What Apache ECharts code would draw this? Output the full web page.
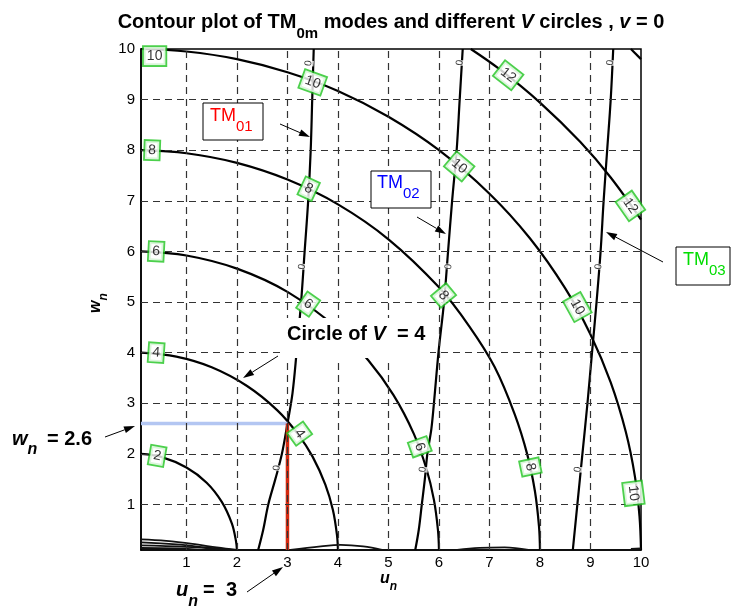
<!DOCTYPE html>
<html><head><meta charset="utf-8">
<script src="https://cdn.jsdelivr.net/npm/echarts@6/dist/echarts.min.js"></script>
<style>html,body{margin:0;padding:0;background:#fff}#c{width:731px;height:612px}</style>
</head><body><div id="c"></div>
<script>
// ---------- data ----------
const uTicks = [1, 2, 3, 4, 5, 6, 7, 8, 9, 10];
const wTicks = [1, 2, 3, 4, 5, 6, 7, 8, 9, 10];
const gridU = [1, 2, 3, 4, 5, 6, 7, 8, 9];
const gridW = [1, 2, 3, 4, 5, 6, 7, 8, 9];

// V circles (u, w)
const circleV2 = [[0.1,2.0],[0.5,1.94],[1.0,1.73],[1.4,1.43],[1.7,1.05],[1.9,0.62],[1.98,0.28],[2.0,0.1]];
const circleV4 = [[0.1,4.0],[0.8,3.92],[1.5,3.71],[2.2,3.34],[2.8,2.86],[3.2,2.4],[3.5,1.94],[3.75,1.39],[3.9,0.89],[3.98,0.4],[4.0,0.1]];
const circleV6 = [[0.1,6.0],[1.0,5.92],[2.0,5.66],[3.0,5.2],[4.0,4.47],[4.6,3.85],[5.1,3.16],[5.5,2.4],[5.75,1.71],[5.9,1.09],[5.98,0.49],[6.0,0.1]];
const circleV8 = [[0.1,8.0],[1,7.94],[2,7.75],[3,7.42],[4,6.93],[5,6.24],[6,5.29],[6.6,4.52],[7.1,3.72],[7.5,2.78],[7.75,1.98],[7.9,1.26],[7.98,0.57],[8.0,0.1]];
const circleV10 = [[0.1,10],[1,9.95],[2,9.8],[3,9.54],[4,9.17],[5,8.66],[6,8.0],[7,7.14],[7.8,6.26],[8.5,5.27],[9.0,4.36],[9.4,3.41],[9.7,2.43],[9.88,1.55],[9.97,0.77],[10,0.1]];
const circleV12 = [[6.63,10],[7.2,9.6],[8,8.94],[8.8,8.16],[9.4,7.46],[10,6.63]];
const circleV14 = [[9.8,10],[10,9.8]];

// TM0m zero contours
const modeTM01 = [[2.42,0.1],[2.52,0.5],[2.62,1],[2.76,1.5],[2.89,2],[3.0,2.6],[3.1,3.2],[3.18,4],[3.27,5],[3.34,6],[3.41,7],[3.46,8],[3.49,9],[3.52,10]];
const modeTM02 = [[5.53,0.1],[5.6,0.5],[5.66,1],[5.72,1.5],[5.77,2],[5.85,2.5],[5.9,3],[5.99,4],[6.1,5],[6.18,6],[6.26,7],[6.35,8],[6.41,9],[6.47,10]];
const modeTM03 = [[8.65,0.1],[8.69,0.5],[8.74,1],[8.84,2],[8.94,3],[9.03,4],[9.12,5],[9.2,6],[9.26,7],[9.33,8],[9.4,9],[9.45,10]];

// spurious contour pieces hugging w = 0
const edgeA = [[0.1,0.31],[0.6,0.28],[1.2,0.21],[1.6,0.15],[2.0,0.1]];
const edgeB = [[0.1,0.25],[0.8,0.21],[1.4,0.15],[1.9,0.1]];
const edgeC = [[0.1,0.19],[1.0,0.16],[1.6,0.12],[1.8,0.1]];
const edgeD = [[0.1,0.14],[0.8,0.13],[1.3,0.1]];
const edgeE = [[3.06,0.1],[3.66,0.17],[4.05,0.2],[4.5,0.17],[4.87,0.1]];
const edgeF = [[6.36,0.1],[6.8,0.14],[7.3,0.15],[7.77,0.1]];
const edgeG = [[9.8,0.12],[10,0.13]];

// contour labels on the V circles
const circleLabelPos = [[0.42,1.96],[0.40,4.0],[3.24,2.4],[0.4,6.0],[3.41,4.96],[5.62,2.14],[0.32,8.0],[3.42,7.24],[6.09,5.13],[7.81,1.74],[0.37,9.86],[3.5,9.34],[6.4,7.68],[8.74,4.9],[9.85,1.22],[7.37,9.48],[9.79,6.9]];
const circleLabelText = ['2','4','4','6','6','6','8','8','8','8','10','10','10','10','10','12','12'];
// zero-contour labels
const zeroLabelPos = [[3.42,9.72],[3.29,5.7],[2.79,1.72],[6.41,9.73],[6.19,5.7],[5.68,1.69],[9.39,9.73],[9.16,5.7],[8.75,1.69]];

// highlighted operating point
const pointU = 3;
const pointW = 2.6;
const axisMin = 0.1;
const axisMax = 10;

// ---------- styling ----------
const FF = "'Liberation Sans', Arial, Helvetica, sans-serif";
const labelAngles = [-10,-4,-54,-3,-35,-70,-2,-25,-50,-78,0,-20,-40,-61,-83,-38,-55];

const chart = echarts.init(document.getElementById('c'), null, {renderer: 'canvas'});

function curve(data) {
  return {type: 'line', data: data, showSymbol: false, smooth: 0.35, silent: true, clip: true,
    lineStyle: {color: '#000', width: 2.2}, z: 3, animation: false};
}
function edge(data) {
  return {type: 'line', data: data, showSymbol: false, smooth: 0.4, silent: true, clip: true,
    lineStyle: {color: '#111', width: 1.8}, z: 3, animation: false};
}

const series = [
  {type: 'line', data: [], silent: true, z: 1,
    markLine: {silent: true, symbol: 'none', label: {show: false}, animation: false,
      lineStyle: {color: '#333', width: 1.2, type: [7, 5]},
      data: gridU.map(v => ({xAxis: v})).concat(gridW.map(v => ({yAxis: v})))}},
  curve(circleV2), curve(circleV4), curve(circleV6), curve(circleV8), curve(circleV10), curve(circleV12), curve(circleV14),
  curve(modeTM01), curve(modeTM02), curve(modeTM03),
  edge(edgeA), edge(edgeB), edge(edgeC), edge(edgeD), edge(edgeE), edge(edgeF), edge(edgeG),
  {type: 'line', data: [[axisMin, pointW], [pointU, pointW]], showSymbol: false, silent: true, z: 4, animation: false,
    lineStyle: {color: '#b3c6f2', width: 3.5}},
  {type: 'line', data: [[pointU, axisMin], [pointU, pointW]], showSymbol: false, silent: true, z: 4, animation: false,
    lineStyle: {color: '#d42a10', width: 3.5}},
  {type: 'scatter', silent: true, z: 8, symbolSize: 1, itemStyle: {color: 'transparent'}, animation: false,
    data: zeroLabelPos.map(p => ({value: p})),
    label: {show: true, position: 'inside', formatter: '0', rotate: 84, color: '#000', fontSize: 10, fontFamily: FF,
      backgroundColor: '#fff', padding: [0, 0, 0, 0]}},
  {type: 'scatter', silent: true, z: 10, symbolSize: 1, itemStyle: {color: 'transparent'}, animation: false,
    data: circleLabelPos.map((p, i) => ({value: p, label: {formatter: circleLabelText[i], rotate: labelAngles[i]}})),
    label: {show: true, position: 'inside', color: '#000', fontSize: 14, fontFamily: FF,
      backgroundColor: '#fff', borderColor: '#1fc41f', borderWidth: 1.8, padding: [3, 3, 1, 3]}}
];

const axisCommon = {
  type: 'value', min: axisMin, max: axisMax,
  axisLine: {show: true, lineStyle: {color: '#000', width: 1.5}},
  splitLine: {show: false},
  axisTick: {show: true, inside: true, length: 5, lineStyle: {color: '#000'}},
  axisLabel: {color: '#000', fontSize: 15, fontFamily: FF}
};

chart.setOption({
  animation: false,
  backgroundColor: '#fff',
  grid: {left: 141, right: 90, top: 49, bottom: 62, show: true, borderColor: '#000', borderWidth: 1.5, backgroundColor: 'transparent'},
  xAxis: Object.assign({}, axisCommon, {
    axisTick: Object.assign({}, axisCommon.axisTick, {customValues: uTicks}),
    axisLabel: Object.assign({}, axisCommon.axisLabel, {customValues: uTicks, margin: 5})}),
  yAxis: Object.assign({}, axisCommon, {
    axisTick: Object.assign({}, axisCommon.axisTick, {customValues: wTicks}),
    axisLabel: Object.assign({}, axisCommon.axisLabel, {customValues: wTicks, margin: 6})}),
  series: series
});

// ---------- annotations ----------
const ctx = document.createElement('canvas').getContext('2d');
function tw(t, font) { ctx.font = font; return ctx.measureText(t).width; }
function runs(x, y, parts, align) {
  const total = parts.reduce((s, p) => s + tw(p.t, p.font), 0);
  let cx = align === 'center' ? x - total / 2 : (align === 'right' ? x - total : x);
  return parts.map(p => {
    const el = {type: 'text', z: 60, silent: true,
      style: {text: p.t, x: cx, y: y + (p.dy || 0), font: p.font, fill: p.fill || '#000', align: 'left', verticalAlign: 'middle'}};
    cx += tw(p.t, p.font);
    return el;
  });
}
function arrow(x1, y1, x2, y2, len, wid) {
  const a = Math.atan2(y2 - y1, x2 - x1);
  const bx = x2 - len * Math.cos(a), by = y2 - len * Math.sin(a);
  const nx = -Math.sin(a) * wid / 2, ny = Math.cos(a) * wid / 2;
  return [
    {type: 'line', z: 60, silent: true, shape: {x1: x1, y1: y1, x2: bx, y2: by}, style: {stroke: '#000', lineWidth: 1}},
    {type: 'polygon', z: 60, silent: true, shape: {points: [[x2, y2], [bx + nx, by + ny], [bx - nx, by - ny]]}, style: {fill: '#000'}}
  ];
}
function box(x, y, w, h) {
  return {type: 'rect', z: 55, silent: true, shape: {x: x, y: y, width: w, height: h}, style: {fill: '#fff', stroke: '#000', lineWidth: 1}};
}

const B20 = 'bold 20px ' + FF;
const BI20 = 'italic bold 20px ' + FF;
const BI16 = 'italic bold 16px ' + FF;
const BI12 = 'italic bold 12px ' + FF;
const N18 = '18px ' + FF;
const N15 = '15px ' + FF;

let g = [];
// title
g = g.concat(runs(391, 22, [
  {t: 'Contour plot of TM', font: B20},
  {t: '0m', font: 'bold 15px ' + FF, dy: 12},
  {t: ' modes and different ', font: B20},
  {t: 'V', font: BI20},
  {t: ' circles , ', font: B20},
  {t: 'v', font: BI20},
  {t: ' = 0', font: B20}
], 'center'));
// axis names
g = g.concat(runs(380, 579, [{t: 'u', font: BI16}, {t: 'n', font: BI12, dy: 8}], 'left'));
g.push({type: 'group', x: 96, y: 313, rotation: Math.PI / 2, z: 60, silent: true,
  children: runs(0, 0, [{t: 'w', font: BI16}, {t: 'n', font: BI12, dy: 8}], 'left')});
// TM boxes
g.push(box(203, 103, 60, 37));
g = g.concat(runs(210, 116, [{t: 'TM', font: N18, fill: '#ff0000'}, {t: '01', font: N15, fill: '#ff0000', dy: 11}], 'left'));
g = g.concat(arrow(280, 124, 310, 137, 11, 7));
g.push(box(371, 171, 60, 37));
g = g.concat(runs(377, 183, [{t: 'TM', font: N18, fill: '#0000ff'}, {t: '02', font: N15, fill: '#0000ff', dy: 11}], 'left'));
g = g.concat(arrow(417, 217, 446, 234, 11, 7));
g.push(box(676, 247, 54, 38));
g = g.concat(runs(683, 260, [{t: 'TM', font: N18, fill: '#00dd00'}, {t: '03', font: N15, fill: '#00dd00', dy: 11}], 'left'));
g = g.concat(arrow(663, 262, 606, 232, 11, 7));
// circle of V = 4
g.push({type: 'rect', z: 55, silent: true, shape: {x: 280, y: 318, width: 150, height: 40}, style: {fill: '#fff'}});
g = g.concat(runs(287, 334, [{t: 'Circle of ', font: B20}, {t: 'V', font: BI20}, {t: '  = 4', font: B20}], 'left'));
g = g.concat(arrow(278, 356, 243, 378, 11, 7));
// w_n = 2.6
g = g.concat(runs(12, 439, [{t: 'w', font: BI20}, {t: 'n', font: BI16, dy: 11}], 'left'));
g = g.concat(runs(92, 439, [{t: '= 2.6', font: B20}], 'right'));
g = g.concat(arrow(105, 437, 135, 426, 11, 7));
// u_n = 3
g = g.concat(runs(176, 590, [{t: 'u', font: BI20}, {t: 'n', font: BI16, dy: 12}], 'left'));
g = g.concat(runs(237, 590, [{t: '=  3', font: B20}], 'right'));
g = g.concat(arrow(247, 592, 283, 567, 11, 7));

chart.setOption({graphic: {elements: g}});
</script>
</body></html>
